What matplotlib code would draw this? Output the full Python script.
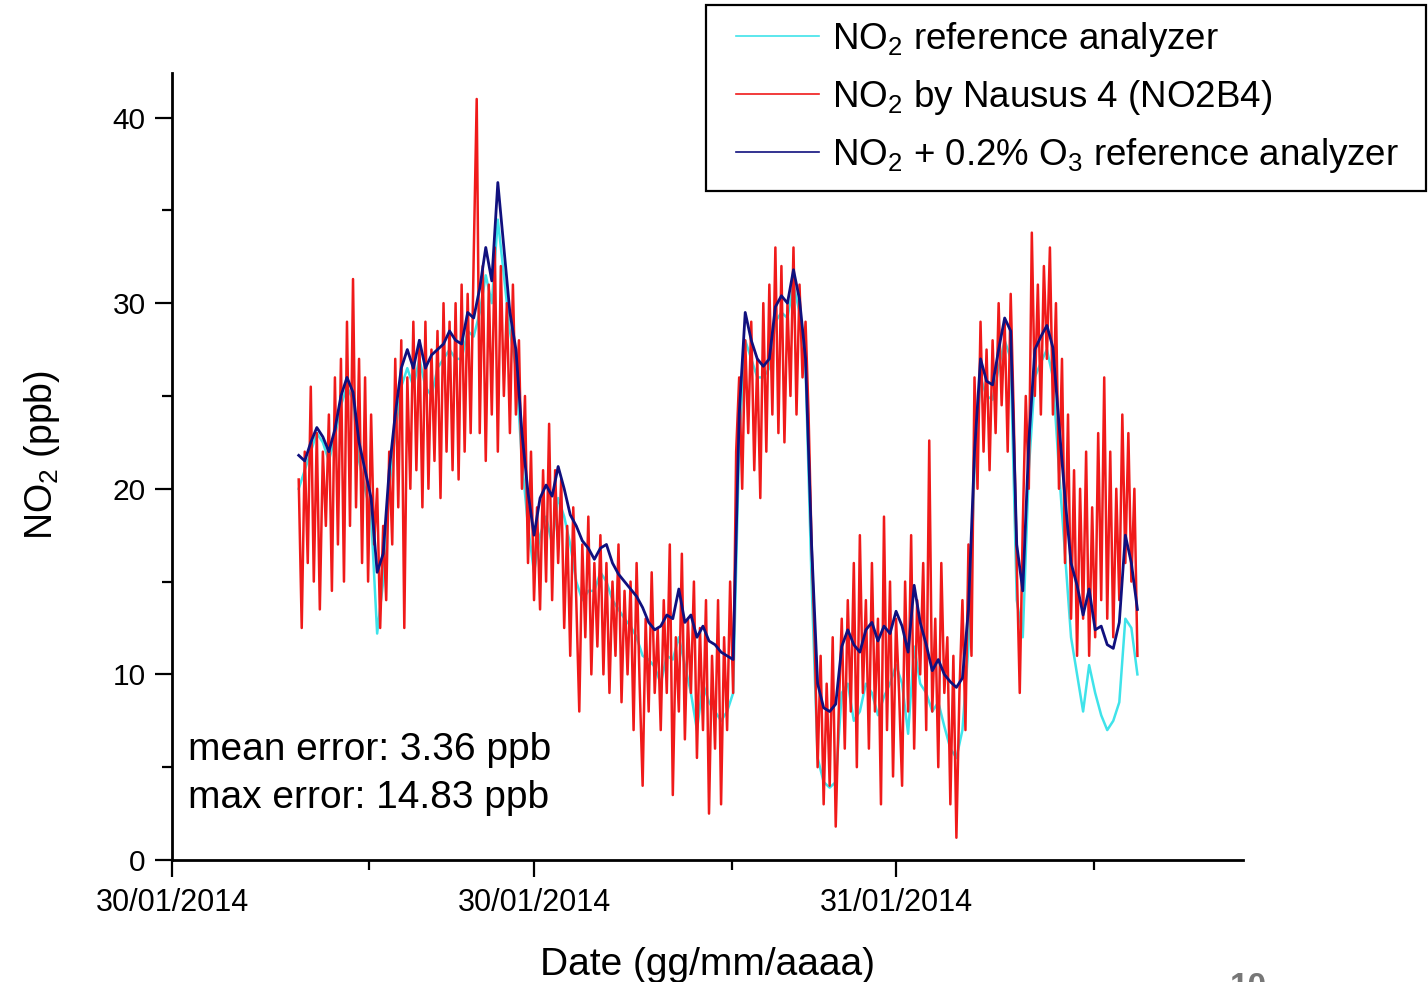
import numpy as np
import matplotlib
matplotlib.use("Agg")
import matplotlib.pyplot as plt
from matplotlib import font_manager
from matplotlib.patches import Rectangle

# ---- data (NO2 in ppb) ----
# sensor samples every 0.1 h, reference analyzers every 0.2 h, start at 4.2 h
t_start = 4.2
dt_sensor = 0.1
dt_ref = 0.2

# NO2 + 0.2% O3 reference analyzer
no2_o3_ref = [
    21.8, 21.5, 22.5, 23.3, 22.8, 22.0, 23.2, 25.0, 26.0, 25.2,
    22.5, 21.0, 19.5, 15.5, 16.5, 21.0, 24.0, 26.5, 27.5, 26.5,
    28.0, 26.5, 27.2, 27.5, 27.8, 28.5, 28.0, 27.8, 29.5, 29.2,
    30.8, 33.0, 31.2, 36.5, 33.0, 29.5, 27.5, 23.0, 19.8, 17.5,
    19.5, 20.2, 19.6, 21.2, 20.0, 18.6, 18.0, 17.2, 16.8, 16.2,
    16.8, 17.0, 16.0, 15.4, 15.0, 14.6, 14.2, 13.6, 12.8, 12.4,
    12.6, 13.2, 13.0, 14.6, 12.8, 13.2, 12.0, 12.6, 11.8, 11.6,
    11.2, 11.0, 10.8, 24.0, 29.5, 28.0, 27.0, 26.6, 27.0, 29.8,
    30.4, 30.0, 31.8, 30.2, 27.0, 17.0, 9.5, 8.2, 8.0, 8.4,
    11.5, 12.4, 11.6, 11.2, 12.4, 12.8, 11.8, 12.6, 12.2, 13.4,
    12.6, 11.2, 14.8, 12.8, 11.6, 10.2, 10.8, 10.0, 9.6, 9.3,
    9.8, 13.5, 22.0, 27.0, 25.8, 25.6, 27.5, 29.2, 28.5, 17.0,
    14.5, 22.5, 27.5, 28.2, 28.8, 27.6, 23.5, 19.5, 16.0, 14.8,
    13.2, 14.6, 12.4, 12.6, 11.6, 11.4, 12.8, 17.5, 16.0, 13.5,
]

# NO2 reference analyzer
no2_ref = [
    20.0, 21.0, 22.0, 23.0, 22.5, 21.5, 22.8, 24.5, 25.5, 24.8,
    21.5, 20.0, 18.5, 12.2, 15.0, 20.0, 23.0, 25.5, 26.5, 25.5,
    27.0, 25.5, 25.0, 26.5, 27.0, 27.5, 27.0, 27.0, 28.5, 28.2,
    29.5, 31.5, 30.0, 34.5, 31.5, 28.5, 26.5, 21.5, 18.0, 15.5,
    17.5, 18.5, 17.0, 19.5, 18.5, 17.0, 15.0, 14.0, 14.5, 14.5,
    15.5, 15.0, 14.0, 13.5, 13.0, 12.6, 12.0, 11.0, 10.8, 10.4,
    9.5, 11.0, 10.8, 12.0, 10.5, 9.0, 7.0, 9.5, 8.5, 8.0,
    7.5, 8.0, 9.0, 22.5, 28.0, 27.0, 26.0, 26.0, 26.5, 29.0,
    29.5, 29.2, 31.0, 29.5, 26.5, 15.0, 5.5, 4.2, 3.9, 4.2,
    9.0, 9.5, 7.5, 8.0, 9.5, 9.0, 7.8, 8.8, 9.5, 10.5,
    9.5, 6.8, 11.5, 9.5, 9.0, 8.0, 8.5, 7.2, 6.0, 5.5,
    7.0, 11.5, 21.0, 26.0, 25.0, 24.8, 26.5, 28.0, 27.0, 14.0,
    12.0, 21.0, 26.0, 26.8, 27.5, 26.0, 21.0, 16.5, 12.0, 10.0,
    8.0, 10.5, 9.0, 7.8, 7.0, 7.5, 8.5, 13.0, 12.5, 10.0,
]

# NO2 by Nausus 4 (NO2B4)
no2_b4 = [
    20.5, 12.5, 22.0, 16.0, 25.5, 15.0, 23.0, 13.5, 22.0, 18.0,
    24.0, 14.5, 26.0, 17.0, 27.0, 15.0, 29.0, 18.0, 31.3, 19.0,
    27.0, 16.0, 26.0, 15.0, 24.0, 17.0, 20.0, 12.5, 18.0, 14.0,
    22.0, 17.0, 27.0, 19.0, 28.0, 12.5, 26.0, 20.0, 29.0, 21.0,
    28.0, 19.0, 29.0, 20.0, 27.5, 21.5, 28.5, 19.5, 30.0, 22.0,
    29.0, 21.0, 30.0, 20.5, 31.0, 22.0, 30.5, 23.0, 32.5, 41.0,
    23.0, 32.0, 21.5, 31.0, 24.0, 33.0, 22.0, 32.0, 25.0, 30.0,
    23.0, 31.0, 24.0, 28.0, 20.0, 25.0, 16.0, 22.0, 14.0, 19.0,
    13.5, 21.0, 15.0, 23.5, 14.0, 21.0, 16.0, 20.5, 12.5, 18.0,
    11.0, 19.0, 14.0, 8.0, 17.0, 12.0, 18.5, 10.0, 16.0, 11.5,
    17.5, 10.0, 16.0, 9.0, 15.0, 11.0, 17.0, 8.5, 14.5, 10.0,
    15.0, 7.0, 16.0, 9.5, 4.0, 13.0, 8.0, 15.5, 9.0, 12.5,
    7.0, 14.0, 9.0, 17.0, 3.5, 12.0, 8.0, 16.5, 6.5, 13.0,
    9.0, 15.0, 5.5, 12.5, 7.0, 14.0, 2.5, 11.0, 6.0, 14.0,
    3.0, 12.0, 7.0, 15.0, 9.0, 22.0, 26.0, 20.0, 28.0, 23.0,
    29.0, 21.0, 27.0, 19.5, 30.0, 22.0, 31.0, 24.0, 33.0, 23.0,
    32.0, 22.5, 30.0, 25.0, 33.0, 24.0, 31.0, 26.0, 29.0, 24.0,
    17.0, 12.0, 5.0, 11.0, 3.0, 9.5, 4.0, 12.0, 1.8, 8.0,
    13.0, 6.0, 14.0, 8.0, 16.0, 5.0, 17.5, 9.0, 14.0, 6.0,
    16.0, 8.0, 13.0, 3.0, 18.5, 7.0, 15.0, 4.5, 13.0, 9.0,
    4.0, 15.0, 8.0, 17.5, 6.0, 14.0, 10.0, 16.0, 7.0, 22.6,
    8.0, 13.0, 5.0, 16.0, 9.0, 12.0, 3.0, 11.0, 1.2, 9.0,
    14.0, 7.0, 17.0, 11.0, 26.0, 20.0, 29.0, 22.0, 27.5, 21.0,
    28.0, 23.0, 30.0, 24.5, 29.0, 22.0, 30.5, 24.0, 16.0, 9.0,
    18.0, 25.0, 20.0, 33.8, 25.0, 31.0, 24.0, 32.0, 27.0, 33.0,
    24.0, 30.0, 20.0, 27.0, 16.0, 24.0, 13.0, 21.0, 11.0, 20.0,
    13.0, 22.0, 11.0, 19.0, 12.0, 23.0, 14.0, 26.0, 13.0, 22.0,
    12.0, 20.0, 14.0, 24.0, 16.0, 23.0, 15.0, 20.0, 11.0,
]

x_major = [0, 12, 24]
x_major_labels = ["30/01/2014", "30/01/2014", "31/01/2014"]
x_minor = [6.53, 18.56, 30.56]

# ---- fonts ----
installed = {f.name for f in font_manager.fontManager.ttflist}
narrow = "Liberation Sans Narrow" if "Liberation Sans Narrow" in installed else "Liberation Sans"
plt.rcParams["font.family"] = ["Liberation Sans", "DejaVu Sans"]
plt.rcParams["mathtext.fontset"] = "custom"
plt.rcParams["mathtext.rm"] = narrow

t_ref = t_start + np.arange(len(no2_ref)) * dt_ref
t_b4 = t_start + np.arange(len(no2_b4)) * dt_sensor

W, H = 1428, 982
fig = plt.figure(figsize=(W / 100, H / 100), dpi=100)
ax = fig.add_axes([172 / W, 1 - 860 / H, (1243 - 172) / W, (860 - 73) / H])

ax.plot(t_ref, no2_ref, color="#3fe3ea", lw=1.8, label=r"NO$_\mathregular{2}$ reference analyzer")
ax.plot(t_b4, no2_b4, color="#f01a1a", lw=1.8, label=r"NO$_\mathregular{2}$ by Nausus 4 (NO2B4)")
ax.plot(t_ref, no2_o3_ref, color="#10107e", lw=2.0,
        label=r"NO$_\mathregular{2}$ + 0.2% O$_\mathregular{3}$ reference analyzer")

ax.set_xlim(0, 35.5)
ax.set_ylim(0, 42.4)

for s in ["top", "right"]:
    ax.spines[s].set_visible(False)
for s in ["left", "bottom"]:
    ax.spines[s].set_linewidth(2.0)

ax.set_yticks([0, 10, 20, 30, 40])
ax.set_yticks([5, 15, 25, 35], minor=True)
ax.set_xticks(x_major)
ax.set_xticklabels(x_major_labels, fontfamily=narrow, fontsize=22)
ax.set_xticks(x_minor, minor=True)
ax.tick_params(which="major", direction="out", length=12, width=1.6, labelsize=21.5, pad=7)
ax.tick_params(which="minor", direction="out", length=7, width=1.6)
ax.tick_params(axis="x", which="major", labelsize=22, pad=8)

ax.set_xlabel("Date (gg/mm/aaaa)", fontfamily=narrow, fontsize=28, labelpad=21)
ax.set_ylabel(r"NO$_\mathregular{2}$ (ppb)", fontfamily=narrow, fontsize=27)
ax.yaxis.set_label_coords(-0.103, 0.515)

ax.text(0.015, 0.14, "mean error: 3.36 ppb", transform=ax.transAxes, fontsize=28, va="center")
ax.text(0.015, 0.079, "max error: 14.83 ppb", transform=ax.transAxes, fontsize=28, va="center")

# legend entries without frame, box drawn separately
leg = ax.legend(loc="upper left", bbox_to_anchor=(736 / W, 1 - 20 / H),
                bbox_transform=fig.transFigure, borderaxespad=0, borderpad=0,
                frameon=False, prop={"family": narrow, "size": 26.5},
                handlelength=2.25, handletextpad=0.35, labelspacing=0.52)
for line in leg.get_lines():
    line.set_linewidth(1.2)
fig.patches.append(Rectangle((706 / W, 1 - 191 / H), 720 / W, 186 / H, transform=fig.transFigure,
                             fill=False, lw=1.6, ec="black"))

# page number peeking in at the bottom edge
fig.text(1230 / W, -0.014, "10", fontsize=24, color="#777777", fontweight="bold")

fig.savefig("out.png", dpi=100)
